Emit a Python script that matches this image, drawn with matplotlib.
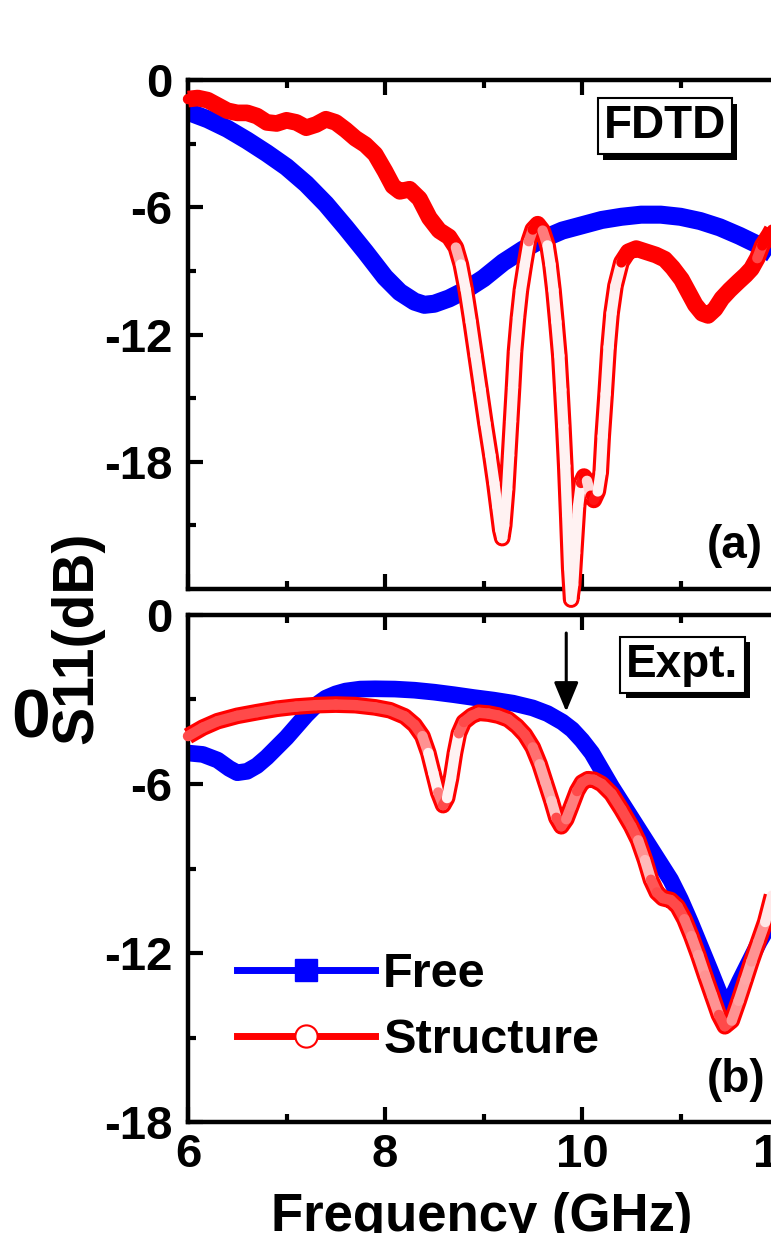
import numpy as np
import matplotlib
matplotlib.use('Agg')
import matplotlib.pyplot as plt
import matplotlib.patheffects as pe
from matplotlib.collections import LineCollection
from matplotlib.lines import Line2D

plt.rcParams['font.family'] = ['Liberation Sans', 'DejaVu Sans']
plt.rcParams['font.weight'] = 'bold'
plt.rcParams['axes.unicode_minus'] = False

# (a) FDTD
freq_a_free = [6.0, 6.2, 6.4, 6.6, 6.8, 7.0, 7.2, 7.4, 7.6, 7.8, 8.0, 8.15, 8.3, 8.4, 8.5, 8.65,
               8.8, 9.0, 9.2, 9.4, 9.6, 9.8, 10.0, 10.2, 10.4, 10.6, 10.8, 11.0, 11.2, 11.4,
               11.6, 11.8, 12.0]
s11_a_free = [-1.5, -1.85, -2.3, -2.85, -3.45, -4.1, -4.9, -5.85, -6.95, -8.1, -9.3, -10.0, -10.45,
              -10.6, -10.55, -10.3, -9.95, -9.35, -8.6, -8.0, -7.5, -7.1, -6.85, -6.6, -6.45,
              -6.35, -6.35, -6.45, -6.65, -6.95, -7.35, -7.8, -8.4]

freq_a_struct = [6.0, 6.1, 6.2, 6.3, 6.4, 6.5, 6.6, 6.7, 6.8, 6.9, 7.0, 7.1, 7.2, 7.3, 7.4, 7.5,
                 7.6, 7.7, 7.8, 7.9, 8.0, 8.08, 8.15, 8.25, 8.35, 8.45, 8.55, 8.65, 8.72, 8.77,
                 8.82, 8.87, 8.92, 8.97, 9.02, 9.07, 9.11, 9.14, 9.17, 9.19, 9.21, 9.24, 9.26,
                 9.28, 9.3, 9.32, 9.35, 9.38, 9.42, 9.46, 9.5, 9.55, 9.6, 9.65, 9.68, 9.71,
                 9.74, 9.77, 9.79, 9.81, 9.83, 9.85, 9.87, 9.89, 9.91, 9.93, 9.96, 9.99, 10.02,
                 10.05, 10.09, 10.12, 10.16, 10.19, 10.21, 10.24, 10.27, 10.3, 10.34, 10.4,
                 10.47, 10.55, 10.65, 10.75, 10.84, 10.92, 11.01, 11.08, 11.15, 11.22, 11.28,
                 11.35, 11.42, 11.5, 11.59, 11.66, 11.72, 11.78, 11.83, 11.9, 11.96, 12.0]
s11_a_struct = [-0.9, -0.85, -0.95, -1.2, -1.45, -1.55, -1.55, -1.7, -2.0, -2.05, -1.9, -2.0, -2.25,
                -2.1, -1.85, -2.0, -2.35, -2.75, -3.05, -3.5, -4.3, -5.0, -5.25, -5.15, -5.6,
                -6.5, -7.1, -7.4, -7.9, -8.7, -9.9, -11.4, -13.0, -14.6, -16.2, -17.7, -19.0,
                -20.1, -21.2, -21.6, -21.0, -19.3, -17.7, -16.1, -14.5, -12.8, -11.2, -9.9,
                -8.7, -7.6, -7.05, -6.8, -7.1, -7.8, -8.7, -9.9, -11.4, -13.0, -14.6, -16.3,
                -18.2, -20.5, -23.0, -24.5, -23.8, -22.3, -20.1, -19.0, -18.7, -18.9, -19.6,
                -19.8, -19.4, -18.5, -16.8, -14.8, -12.6, -11.0, -9.7, -8.6, -8.1, -7.95,
                -8.1, -8.25, -8.45, -8.85, -9.4, -10.0, -10.6, -11.0, -11.1, -10.8, -10.3,
                -9.9, -9.5, -9.2, -8.9, -8.4, -7.8, -7.3, -6.8, -6.5]

# (b) Expt.
freq_b_free = [6.0, 6.15, 6.3, 6.42, 6.5, 6.6, 6.7, 6.8, 6.9, 7.0, 7.1, 7.2, 7.3, 7.4, 7.5, 7.6,
               7.75, 7.9, 8.1, 8.3, 8.5, 8.7, 8.9, 9.1, 9.3, 9.5, 9.65, 9.8, 9.9, 10.0, 10.1,
               10.2, 10.3, 10.4, 10.5, 10.6, 10.7, 10.8, 10.9, 11.0, 11.1, 11.2, 11.3, 11.38,
               11.46, 11.52, 11.6, 11.7, 11.8, 11.9, 12.0]
s11_b_free = [-4.9, -4.95, -5.15, -5.45, -5.6, -5.55, -5.35, -5.05, -4.7, -4.35, -3.95, -3.55, -3.2,
              -2.95, -2.8, -2.7, -2.63, -2.62, -2.63, -2.67, -2.74, -2.83, -2.93, -3.02, -3.13,
              -3.3, -3.5, -3.8, -4.07, -4.45, -4.9, -5.5, -6.1, -6.65, -7.2, -7.75, -8.3, -8.85,
              -9.4, -10.1, -10.9, -11.75, -12.6, -13.3, -13.95, -13.6, -13.0, -12.3, -11.6,
              -11.0, -10.3]

freq_b_struct = [6.0, 6.15, 6.3, 6.5, 6.7, 6.9, 7.1, 7.3, 7.5, 7.7, 7.9, 8.05, 8.2, 8.3, 8.38,
                 8.44, 8.49, 8.54, 8.59, 8.63, 8.67, 8.71, 8.75, 8.8, 8.88, 8.95, 9.05, 9.15,
                 9.25, 9.34, 9.42, 9.5, 9.57, 9.63, 9.69, 9.74, 9.79, 9.84, 9.89, 9.95, 10.0,
                 10.06, 10.12, 10.2, 10.3, 10.4, 10.5, 10.57, 10.64, 10.7, 10.76, 10.82, 10.9,
                 10.97, 11.04, 11.11, 11.18, 11.25, 11.32, 11.39, 11.45, 11.52, 11.59, 11.66,
                 11.72, 11.79, 11.86, 11.93, 12.0]
s11_b_struct = [-4.3, -4.0, -3.77, -3.58, -3.45, -3.33, -3.25, -3.2, -3.18, -3.2, -3.28, -3.38,
                -3.6, -3.9, -4.3, -4.9, -5.6, -6.3, -6.75, -6.5, -5.8, -4.9, -4.2, -3.8, -3.58,
                -3.47, -3.5, -3.57, -3.7, -3.95, -4.25, -4.7, -5.3, -5.95, -6.6, -7.2, -7.5,
                -7.25, -6.8, -6.25, -5.95, -5.83, -5.85, -6.0, -6.35, -6.9, -7.5, -8.0, -8.7,
                -9.4, -9.85, -10.05, -10.12, -10.35, -10.8, -11.4, -12.07, -12.8, -13.5, -14.2,
                -14.6, -14.4, -13.7, -12.95, -12.3, -11.6, -10.9, -9.95, -9.2]

W, H = 771, 1233
fig = plt.figure(figsize=(W / 100, H / 100), dpi=100)


def box(left, top, right, bottom):
    return [left / W, 1 - bottom / H, (right - left) / W, (bottom - top) / H]


ax1 = fig.add_axes(box(188, 80, 976, 589))
ax2 = fig.add_axes(box(188, 615, 976, 1122))

for ax in (ax1, ax2):
    ax.set_xlim(6, 14)
    ax.set_xticks([6, 8, 10, 12, 14])
    ax.set_xticks([7, 9, 11, 13], minor=True)
    ax.tick_params(which='both', direction='in', top=True, right=True, width=3)
    ax.tick_params(which='major', length=11, labelsize=34)
    ax.tick_params(which='minor', length=6)
    ax.tick_params(axis='y', pad=11)
    ax.tick_params(axis='x', pad=8)
    for s in ax.spines.values():
        s.set_linewidth(3.2)

ax1.set_ylim(-24, 0)
ax1.set_yticks([0, -6, -12, -18])
ax1.set_yticks([-3, -9, -15, -21], minor=True)
ax1.tick_params(labelbottom=False)
ax2.set_ylim(-18, 0)
ax2.set_yticks([0, -6, -12, -18])
ax2.set_yticks([-3, -9, -15], minor=True)


def ring_line(ax, x, y, inner_base):
    # look of densely packed open circles: solid where flat, hollow where steep
    x = np.asarray(x)
    y = np.asarray(y)
    ax.plot(x, y, color='red', lw=12, solid_joinstyle='round', solid_capstyle='butt',
            zorder=3, clip_on=False)
    pts = ax.transData.transform(np.column_stack([x, y]))
    d = np.diff(pts, axis=0)
    steep = np.abs(d[:, 1]) / np.maximum(np.abs(d[:, 0]), 1e-6)
    t = np.clip((steep - 2.0) / 2.0, 0, 1)[:, None]
    base = np.array(matplotlib.colors.to_rgb(inner_base))
    hollow = np.array(matplotlib.colors.to_rgb('#fff2f2'))
    cols = base * (1 - t) + hollow * t
    segs = np.stack([np.column_stack([x[:-1], y[:-1]]), np.column_stack([x[1:], y[1:]])], axis=1)
    lc = LineCollection(segs, colors=cols, linewidths=7.5, capstyle='round', zorder=4, clip_on=False)
    ax.add_collection(lc)


ax1.plot(freq_a_free, s11_a_free, color='#0000ff', lw=13, solid_joinstyle='round',
         solid_capstyle='butt', zorder=2)
ring_line(ax1, freq_a_struct, s11_a_struct, 'red')

ax2.plot(freq_b_free, s11_b_free, color='#0000ff', lw=12, solid_joinstyle='round',
         solid_capstyle='butt', zorder=2)
ring_line(ax2, freq_b_struct, s11_b_struct, '#ff4a4a')

bbox_style = dict(boxstyle='square,pad=0.13', fc='white', ec='black', lw=1.5)
for ax, (x, y, lab) in ((ax1, (10.84, -2.17, 'FDTD')), (ax2, (11.02, -1.77, 'Expt.'))):
    t = ax.text(x, y, lab, ha='center', va='center', fontsize=33, bbox=bbox_style, zorder=6)
    t.get_bbox_patch().set_path_effects([pe.withSimplePatchShadow(offset=(4, -4), shadow_rgbFace='black', alpha=1)])

ax1.text(11.55, -21.98, '(a)', ha='center', va='center', fontsize=33, zorder=6)
ax2.text(11.56, -16.5, '(b)', ha='center', va='center', fontsize=33, zorder=6)

ax2.annotate('', xy=(9.84, -3.43), xytext=(9.84, -0.64),
             arrowprops=dict(arrowstyle='-|>,head_length=0.6,head_width=0.25', color='black',
                             lw=2.2, mutation_scale=30, shrinkA=0, shrinkB=0))

h_free = Line2D([], [], color='#0000ff', lw=5, marker='s', ms=16, mfc='#0000ff', mec='#0000ff')
h_struct = Line2D([], [], color='red', lw=5, marker='o', ms=16, mfc='white', mec='red', mew=1.5)
ax2.legend([h_free, h_struct], ['Free', 'Structure'], loc='upper left', bbox_to_anchor=(0.062, 0.335),
           frameon=False, prop={'size': 35, 'weight': 'bold'}, handlelength=2.84, handletextpad=0.17,
           labelspacing=0.42, borderpad=0, borderaxespad=0)

fig.text(77 / W, 1 - 638 / H, 'S11(dB)', rotation=90, ha='center', va='center', fontsize=41,
         fontweight='bold')
fig.text(31 / W, 1 - 738 / H, '0', ha='center', va='baseline', fontsize=50, fontweight='bold')
fig.text(482 / W, 1 - 1231 / H, 'Frequency (GHz)', ha='center', va='baseline', fontsize=38,
         fontweight='bold')

fig.savefig('out.png', dpi=100)
